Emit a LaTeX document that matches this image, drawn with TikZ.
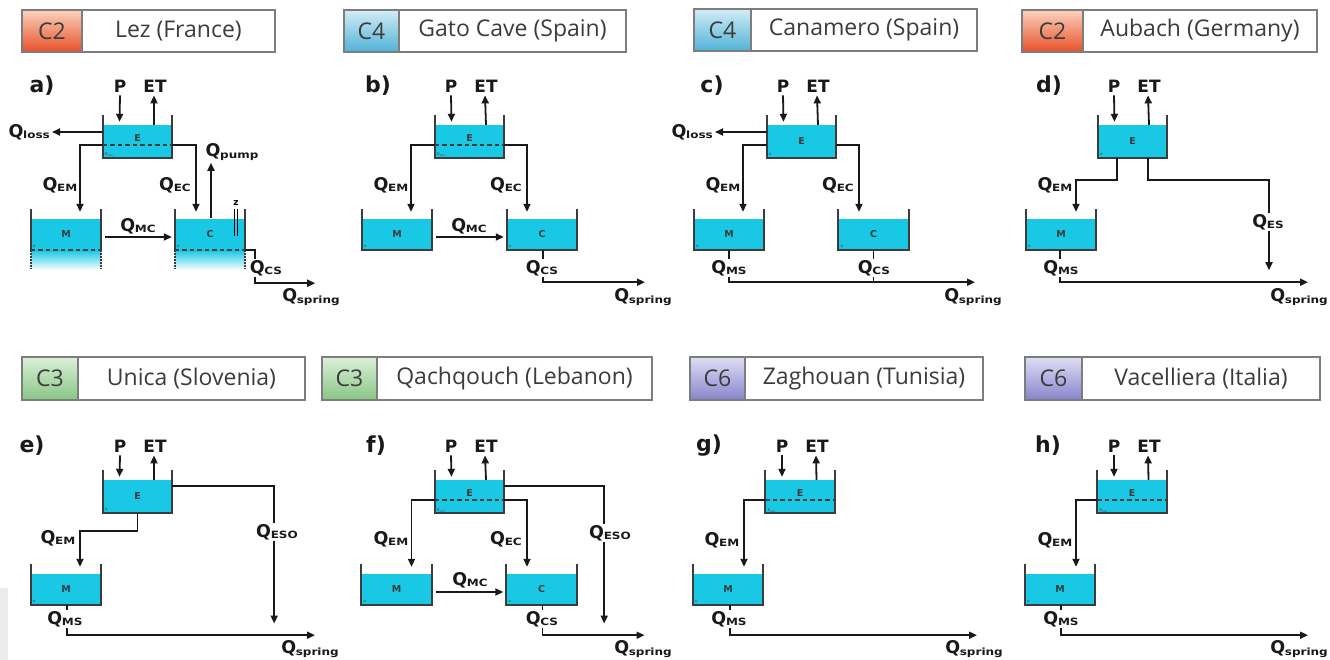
\documentclass[tikz,border=0pt]{standalone}
\usepackage{graphicx}
\usepackage{fontspec}
\setmainfont{Open Sans}
\newfontfamily\vfont{DejaVu Sans}
\usetikzlibrary{arrows.meta,calc}
\definecolor{water}{RGB}{24,200,228}
\definecolor{linec}{RGB}{25,25,25}
\definecolor{hdrtext}{RGB}{60,60,60}
\definecolor{hdrline}{RGB}{125,125,125}
\definecolor{ctwoT}{RGB}{251,210,190}
\definecolor{ctwoB}{RGB}{232,80,40}
\definecolor{cfourT}{RGB}{210,236,246}
\definecolor{cfourB}{RGB}{80,178,214}
\definecolor{cthreeT}{RGB}{220,240,216}
\definecolor{cthreeB}{RGB}{135,198,133}
\definecolor{csixT}{RGB}{222,222,244}
\definecolor{csixB}{RGB}{136,132,204}
\newcommand\qlab[1]{{\fontsize{17.5}{17.5}\selectfont Q}\kern-0.3pt\raisebox{-1.5pt}{\scalebox{1.2}[1]{\fontsize{10}{10}\selectfont #1}}}
\tikzset{
 wat/.style={fill=water, draw=none, inner sep=0pt, font=\vfont\bfseries\fontsize{9.5}{9.5}\selectfont, text=linec!85},
 etk/.style={wat, minimum width=69pt, minimum height=33pt},
 mtk/.style={wat, minimum width=70pt, minimum height=31pt},
 wall/.style={line width=2.2pt, draw=linec!85},
 arr/.style={line width=1.8pt, draw=linec, -{Triangle[length=8pt,width=7pt]}},
 flow/.style={line width=1.8pt, draw=linec},
 dsh/.style={line width=1.6pt, draw=linec!85, dash pattern=on 4.5pt off 3pt},
 ql/.style={font=\vfont\bfseries, text=linec, inner sep=1pt},
 qlw/.style={ql, fill=white},
 tl/.style={font=\vfont\bfseries\fontsize{17}{17}\selectfont, text=linec, inner sep=1pt},
 pl/.style={font=\vfont\bfseries\fontsize{22}{22}\selectfont, text=linec, inner sep=1pt},
 tinyt/.style={font=\vfont\fontsize{4}{4}\selectfont, text=linec!80, inner sep=0pt},
 cbox/.style={draw=hdrline, line width=1.3pt, inner sep=0pt, font=\fontsize{23}{23}\selectfont, text=hdrtext},
 ctwo/.style={top color=ctwoT, bottom color=ctwoB},
 cthree/.style={top color=cthreeT, bottom color=cthreeB},
 cfour/.style={top color=cfourT, bottom color=cfourB},
 csix/.style={top color=csixT, bottom color=csixB},
}
\newcommand\tank[5]{%
 \node[#2] (#1) at (#3,#4) {#5};
 \draw[wall] ($(#1.north west)+(0,-10)$) -- (#1.south west) -- (#1.south east) -- ($(#1.north east)+(0,-10)$);}
\newcommand\otank[5]{%
 \node[#2] (#1) at (#3,#4) {#5};
 \shade[top color=water, bottom color=white] (#1.south west) rectangle ($(#1.south east)+(0,20)$);
 \draw[wall] ($(#1.north west)+(0,-10)$) -- (#1.south west);
 \draw[wall] ($(#1.north east)+(0,-10)$) -- (#1.south east);
 \draw[wall, line width=1.6pt, dash pattern=on 1.5pt off 1.5pt] (#1.south west) -- ++(0,19);
 \draw[wall, line width=1.6pt, dash pattern=on 1.5pt off 1.5pt] (#1.south east) -- ++(0,19);
 \draw[dsh] (#1.south west) -- (#1.south east);}
\newcommand\emin[1]{%
 \draw[dsh] ($(#1.west)+(0,3.5)$) -- ($(#1.east)+(0,3.5)$);
 \node[tinyt, anchor=south west] (#1min) at ($(#1.south west)+(2,-1)$) {E\textsubscript{min}};}
\newcommand\omark[1]{\node[tinyt, anchor=south west] (#1o) at ($(#1.south west)+(2,-2)$) {o};}
\newcommand\pet[3]{%
 \node[tl] (#1P) at (120,#2) {P};
 \node[tl] (#1ET) at (155,#2) {ET};
 \draw[arr] ($(#1P.south)+(0,2)$) -- ($(#1E.north)+(-18,-3)$);
 \draw[arr] ($(#1E.north)+(16.5,0)$) -- ($(#1ET.south)+(-1,2)$);}
\newcommand\hdr[9]{%
 \node[cbox,#2, minimum width={(#4-#3)*1pt}, minimum height={(#7-#6)*1pt}] (#1c) at ({(#3+#4)/2},{(#6+#7)/2}) {#8};
 \node[cbox, fill=white, minimum width={(#5-#4)*1pt}, minimum height={(#7-#6)*1pt}] (#1t) at ({(#4+#5)/2},{(#6+#7)/2}) {#9};}
\begin{document}
\begin{tikzpicture}[x=1pt,y=-1pt]
\useasboundingbox (0,0) rectangle (1330,660);
\fill[white] (0,0) rectangle (1330,660);
\clip (0,0) rectangle (1330,660);
\fill[gray!15] (0,588) rectangle (8,660);
% headers
\hdr{ha}{ctwo}{22}{82}{275}{10}{52}{C2}{Lez (France)}
\hdr{hb}{cfour}{344}{399}{626}{10}{52}{C4}{Gato Cave (Spain)}
\hdr{hc}{cfour}{694}{751}{977}{9}{51}{C4}{Canamero (Spain)}
\hdr{hd}{ctwo}{1022}{1083}{1317}{10}{52}{C2}{Aubach (Germany)}
\hdr{he}{cthree}{22}{78}{305}{357}{400}{C3}{Unica (Slovenia)}
\hdr{hf}{cthree}{322}{377}{652}{357}{400}{C3}{Qachqouch (Lebanon)}
\hdr{hg}{csix}{690}{745}{983}{357}{400}{C6}{Zaghouan (Tunisia)}
\hdr{hh}{csix}{1025}{1082}{1320}{357}{400}{C6}{Vacelliera (Italia)}
% ---------- a) ----------
\begin{scope}
\node[pl] (aL) at (42,86) {a)};
\tank{aE}{etk}{137.5}{141.5}{\raisebox{6pt}{E}}
\emin{aE}
\otank{aM}{mtk}{66}{234.5}{M}
\otank{aC}{mtk}{210}{234.5}{C}
\node[tinyt, anchor=south west] (aMo) at ($(aM.south west)+(2,-2)$) {o};
\node[tinyt, anchor=south west] (aCo) at ($(aC.south west)+(2,-2)$) {o};
\pet{a}{86}{}
\node[ql, anchor=east] (aQl) at (51,132) {\qlab{loss}};
\draw[arr, shorten >=1pt] (aE.west |- aQl.east) -- (aQl.east);
\draw[arr] ($(aE.west)+(0,3.5)$) -| ($(aM.north)+(14,-7)$);
\node[ql] (aQem) at (60,185) {\qlab{EM}};
\draw[arr] ($(aE.east)+(0,3.5)$) -| ($(aC.north)+(-14,-7)$);
\node[ql] (aQec) at (175,185) {\qlab{EC}};
\draw[arr] ($(aM.east)+(4,2.5)$) -- ($(aC.west)+(-3,2.5)$);
\node[ql] (aQmc) at (138,226) {\qlab{MC}};
\draw[arr] ($(aC.north)+(1,-1)$) -- ($(aC.north)+(1,-56)$);
\node[ql] (aQp) at (232,152) {\qlab{pump}};
\node[font=\vfont\bfseries\fontsize{9}{9}\selectfont, inner sep=0pt] (aZ) at (236,203) {z};
\draw[line width=0.9pt] ($(aZ.south)+(-1.5,3)$) -- ++(0,27);
\draw[line width=0.9pt] ($(aZ.south)+(1.5,3)$) -- ++(0,27);
\draw[arr] (aC.south east) -- ++(10,0) -- ++(0,33) -- ++(60,0);
\node[qlw] (aQcs) at (266,268) {\qlab{CS}};
\node[ql] (aQs) at (311,297) {\qlab{spring}};
\end{scope}
% ---------- b) ----------
\begin{scope}[shift={(331,0)}]
\node[pl] (bL) at (47,86) {b)};
\tank{bE}{etk}{138.5}{141.5}{\raisebox{6pt}{E}}
\emin{bE}
\tank{bM}{mtk}{66}{234.5}{M}\omark{bM}
\tank{bC}{mtk}{211}{234.5}{C}\omark{bC}
\pet{b}{86}{}
\draw[arr] ($(bE.west)+(0,3.5)$) -| ($(bM.north)+(14,-7)$);
\node[ql] (bQem) at (60,185) {\qlab{EM}};
\draw[arr] ($(bE.east)+(0,3.5)$) -| ($(bC.north)+(-15,-7)$);
\node[ql] (bQec) at (175,185) {\qlab{EC}};
\draw[arr] ($(bM.east)+(4,2.5)$) -- ($(bC.west)+(-3,2.5)$);
\node[ql] (bQmc) at (138,226) {\qlab{MC}};
\draw[arr] ($(bC.south)+(1,0)$) |- ($(bC.south)+(103,32)$);
\node[qlw] (bQcs) at (211,268) {\qlab{CS}};
\node[ql] (bQs) at (312,297) {\qlab{spring}};
\end{scope}
% ---------- c) ----------
\begin{scope}[shift={(663,0)}]
\node[pl] (cL) at (49,86) {c)};
\tank{cE}{etk}{138.5}{141.5}{E}\omark{cE}
\tank{cM}{mtk}{66}{234.5}{M}\omark{cM}
\tank{cC}{mtk}{210.5}{234.5}{C}\omark{cC}
\pet{c}{86}{}
\node[ql, anchor=east] (cQl) at (51,132) {\qlab{loss}};
\draw[arr, shorten >=1pt] (cE.west |- cQl.east) -- (cQl.east);
\draw[arr] ($(cE.west)+(0,3.5)$) -| ($(cM.north)+(14,-7)$);
\node[ql] (cQem) at (60,185) {\qlab{EM}};
\draw[arr] ($(cE.east)+(0,3.5)$) -| ($(cC.north)+(-14.5,-7)$);
\node[ql] (cQec) at (175,185) {\qlab{EC}};
\draw[arr] (cM.south) |- ($(cM.south)+(246,32)$);
\draw[flow] (cC.south) -- ++(0,32);
\node[qlw] (cQms) at (66,268) {\qlab{MS}};
\node[qlw] (cQcs) at (211,268) {\qlab{CS}};
\node[ql] (cQs) at (310,297) {\qlab{spring}};
\end{scope}
% ---------- d) ----------
\begin{scope}[shift={(994,0)}]
\node[pl] (dL) at (55,86) {d)};
\tank{dE}{etk}{138.5}{141.5}{E}\omark{dE}
\tank{dM}{mtk}{67}{234.5}{M}\omark{dM}
\pet{d}{86}{}
\draw[arr] ($(dE.south)+(-15.5,0)$) -- ++(0,22) -| ($(dM.north)+(15,-7)$);
\node[ql] (dQem) at (61,185) {\qlab{EM}};
\draw[arr] ($(dE.south)+(15.5,0)$) -- ++(0,22) -| ($(dE.south)+(136.5,112)$);
\node[qlw] (dQes) at (274,222) {\qlab{ES}};
\draw[arr] ($(dM.south)+(-1,0)$) |- ($(dM.south)+(247,32)$);
\node[qlw] (dQms) at (67,268) {\qlab{MS}};
\node[ql, anchor=east] (dQs) at (335,297) {\qlab{spring}};
\end{scope}
% ---------- e) ----------
\begin{scope}[shift={(0,355)}]
\node[pl] (eL) at (32,91) {e)};
\tank{eE}{etk}{137.5}{141.5}{E}\omark{eE}
\tank{eM}{mtk}{66}{234.5}{M}\omark{eM}
\pet{e}{91}{}
\draw[arr] (eE.south) -- ++(0,18) -| ($(eM.north)+(14,-7)$);
\node[ql] (eQem) at (58,183) {\qlab{EM}};
\draw[arr] ($(eE.east)+(0,-10.5)$) -| ($(eE.east)+(102,127)$);
\node[qlw] (eQeso) at (277,177) {\qlab{ESO}};
\draw[arr] ($(eM.south)+(1,0)$) |- ($(eM.south)+(249,30)$);
\node[qlw] (eQms) at (65,264) {\qlab{MS}};
\node[ql] (eQs) at (310,294) {\qlab{spring}};
\end{scope}
% ---------- f) ----------
\begin{scope}[shift={(331,355)}]
\node[pl] (fL) at (45,91) {f)};
\tank{fE}{etk}{138.5}{141.5}{\raisebox{6pt}{E}}
\emin{fE}
\tank{fM}{mtk}{65.5}{234.5}{M}\omark{fM}
\tank{fC}{mtk}{210.5}{234.5}{C}\omark{fC}
\pet{f}{91}{}
\draw[arr] ($(fE.west)+(0,3.5)$) -| ($(fM.north)+(15,-7)$);
\node[ql] (fQem) at (60,184) {\qlab{EM}};
\draw[arr] ($(fE.east)+(0,3.5)$) -| ($(fC.north)+(-14.5,-7)$);
\node[ql] (fQec) at (175,184) {\qlab{EC}};
\draw[arr] ($(fM.east)+(4,2.5)$) -- ($(fC.west)+(-3,2.5)$);
\node[ql] (fQmc) at (139,225) {\qlab{MC}};
\draw[arr] ($(fE.east)+(0,-10.5)$) -| ($(fE.east)+(100,127)$);
\node[qlw] (fQeso) at (279,178) {\qlab{ESO}};
\draw[arr] ($(fC.south)+(1,0)$) |- ($(fC.south)+(103,30)$);
\node[qlw] (fQcs) at (211,264) {\qlab{CS}};
\node[ql] (fQs) at (312,294) {\qlab{spring}};
\end{scope}
% ---------- g) ----------
\begin{scope}[shift={(662,355)}]
\node[pl] (gL) at (47,91) {g)};
\tank{gE}{etk}{138}{141.5}{\raisebox{6pt}{E}}
\emin{gE}
\tank{gM}{mtk}{66}{234.5}{M}\omark{gM}
\pet{g}{91}{}
\draw[arr] ($(gE.west)+(0,3.5)$) -| ($(gM.north)+(16,-7)$);
\node[ql] (gQem) at (60,185) {\qlab{EM}};
\draw[arr] ($(gM.south)+(2,0)$) |- ($(gM.south)+(249,30)$);
\node[qlw] (gQms) at (67,264) {\qlab{MS}};
\node[ql] (gQs) at (312,294) {\qlab{spring}};
\end{scope}
% ---------- h) ----------
\begin{scope}[shift={(994,355)}]
\node[pl] (hL) at (54,91) {h)};
\tank{hE}{etk}{138}{141.5}{\raisebox{6pt}{E}}
\emin{hE}
\tank{hM}{mtk}{66}{234.5}{M}\omark{hM}
\pet{h}{91}{}
\draw[arr] ($(hE.west)+(0,3.5)$) -| ($(hM.north)+(16,-7)$);
\node[ql] (hQem) at (61,185) {\qlab{EM}};
\draw[arr] ($(hM.south)+(1,0)$) |- ($(hM.south)+(248,30)$);
\node[qlw] (hQms) at (67,264) {\qlab{MS}};
\node[ql, anchor=east] (hQs) at (335,294) {\qlab{spring}};
\end{scope}
\end{tikzpicture}
\end{document}
